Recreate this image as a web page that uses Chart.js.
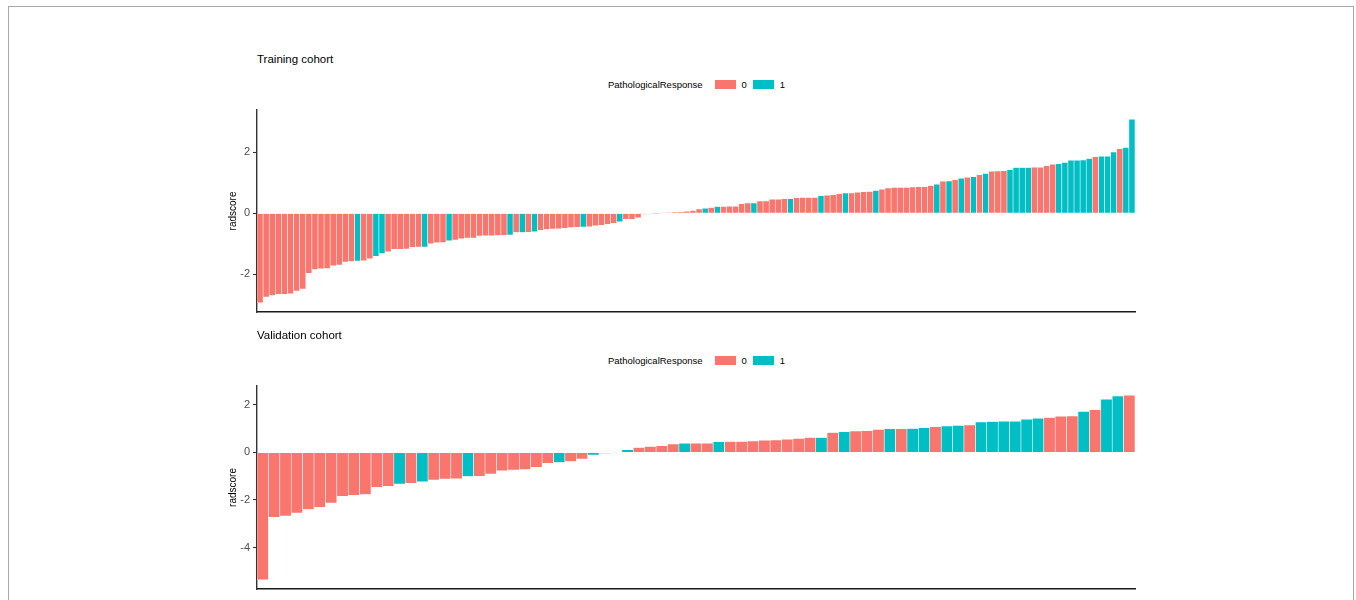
<!DOCTYPE html>
<html>
<head>
<meta charset="utf-8">
<title>Radscore waterfall plots</title>
<script src="https://cdn.jsdelivr.net/npm/chart.js@4.4.1/dist/chart.umd.min.js"></script>
<style>
  html, body { margin: 0; padding: 0; background: #fff; }
  body { width: 1356px; height: 600px; position: relative; overflow: hidden;
         font-family: "Liberation Sans", Arial, sans-serif; }
  #frame { position: absolute; left: 8px; top: 6px; width: 1346px; height: 640px;
           border: 1px solid #a9a9a9; box-sizing: border-box; }
  canvas { position: absolute; left: 0; }
  .panel-title { position: absolute; left: 257px; font-size: 11.5px; line-height: 14px; color: #000; white-space: nowrap; }
  .legend { position: absolute; left: 608px; height: 12px; display: flex; align-items: center;
            font-size: 9.5px; color: #000; white-space: nowrap; }
  .legend .key { display: inline-block; width: 21px; height: 9px; }
</style>
</head>
<body>
<div id="frame"></div>

<div class="panel-title" style="top:52px">Training cohort</div>
<div class="legend" id="legendTrain" style="top:78px"></div>
<canvas id="trainChart" width="1356" height="330" style="top:0"></canvas>

<div class="panel-title" style="top:328px">Validation cohort</div>
<div class="legend" id="legendValid" style="top:354px"></div>
<canvas id="validChart" width="1356" height="270" style="top:330px"></canvas>

<script>
// Radscore per patient, sorted ascending, with the pathological response (0/1)
const trainScores = [
  -2.94, -2.75, -2.70, -2.66, -2.66, -2.64, -2.55, -2.49, -1.97, -1.85,
  -1.82, -1.81, -1.72, -1.70, -1.60, -1.58, -1.57, -1.56, -1.49, -1.41,
  -1.32, -1.26, -1.18, -1.18, -1.17, -1.12, -1.11, -1.11, -1.00, -0.97,
  -0.96, -0.90, -0.88, -0.84, -0.81, -0.81, -0.75, -0.74, -0.74, -0.73,
  -0.72, -0.71, -0.63, -0.63, -0.62, -0.61, -0.56, -0.53, -0.52, -0.51,
  -0.49, -0.47, -0.46, -0.45, -0.44, -0.41, -0.39, -0.36, -0.33, -0.28,
  -0.20, -0.20, -0.15, -0.03, -0.02, -0.01, 0.01, 0.02, 0.03, 0.04,
  0.07, 0.09, 0.14, 0.17, 0.19, 0.22, 0.22, 0.23, 0.23, 0.31,
  0.34, 0.34, 0.40, 0.40, 0.46, 0.46, 0.48, 0.48, 0.51, 0.52,
  0.52, 0.52, 0.58, 0.59, 0.61, 0.64, 0.67, 0.67, 0.69, 0.71,
  0.72, 0.75, 0.79, 0.83, 0.85, 0.85, 0.85, 0.86, 0.87, 0.87,
  0.91, 0.95, 1.05, 1.06, 1.10, 1.15, 1.18, 1.20, 1.27, 1.31,
  1.38, 1.39, 1.40, 1.43, 1.50, 1.50, 1.50, 1.51, 1.51, 1.56,
  1.61, 1.63, 1.67, 1.74, 1.74, 1.75, 1.80, 1.86, 1.87, 1.87,
  2.01, 2.12, 2.16, 3.09
];
const trainResponse = [
  0, 0, 0, 0, 0, 0, 0, 0, 0, 0,
  0, 0, 0, 0, 0, 0, 1, 0, 0, 1,
  1, 0, 0, 0, 0, 0, 0, 1, 0, 0,
  0, 1, 0, 0, 0, 0, 0, 0, 0, 0,
  0, 1, 0, 1, 0, 1, 0, 0, 0, 0,
  0, 0, 0, 1, 0, 0, 0, 0, 0, 1,
  0, 0, 0, 0, 0, 0, 0, 0, 0, 0,
  0, 0, 0, 1, 0, 1, 0, 0, 0, 0,
  0, 1, 0, 0, 0, 0, 0, 1, 0, 0,
  0, 0, 1, 0, 0, 0, 1, 0, 0, 0,
  0, 1, 0, 0, 0, 0, 0, 0, 0, 0,
  0, 1, 0, 1, 0, 1, 0, 1, 0, 1,
  0, 0, 0, 1, 1, 1, 1, 0, 0, 0,
  0, 1, 1, 1, 1, 1, 1, 0, 1, 1,
  1, 0, 1, 1
];

const validScores = [
  -5.36, -2.73, -2.68, -2.55, -2.40, -2.31, -2.13, -1.84, -1.80, -1.77,
  -1.47, -1.42, -1.33, -1.30, -1.23, -1.16, -1.12, -1.11, -1.01, -1.00,
  -0.91, -0.77, -0.74, -0.72, -0.62, -0.45, -0.42, -0.38, -0.28, -0.11,
  -0.03, 0.02, 0.11, 0.21, 0.25, 0.28, 0.36, 0.39, 0.39, 0.39,
  0.45, 0.46, 0.46, 0.48, 0.52, 0.53, 0.56, 0.59, 0.63, 0.63,
  0.84, 0.87, 0.90, 0.91, 0.97, 1.00, 1.00, 1.01, 1.04, 1.08,
  1.11, 1.14, 1.16, 1.28, 1.30, 1.32, 1.32, 1.40, 1.44, 1.47,
  1.53, 1.54, 1.73, 1.80, 2.24, 2.38, 2.41
];
const validResponse = [
  0, 0, 0, 0, 0, 0, 0, 0, 0, 0,
  0, 0, 1, 0, 1, 0, 0, 0, 1, 0,
  0, 0, 0, 0, 0, 0, 1, 0, 0, 1,
  0, 0, 1, 0, 0, 0, 0, 1, 0, 0,
  1, 0, 0, 0, 0, 0, 0, 0, 0, 1,
  0, 1, 0, 0, 0, 1, 0, 1, 1, 0,
  1, 1, 0, 1, 1, 1, 1, 1, 1, 0,
  0, 0, 1, 0, 1, 1, 0
];

const trainTicks = [-2, 0, 2];
const validTicks = [-4, -2, 0, 2];

const responseLevels = ['0', '1'];
const responseColors = ['#F8766D', '#00BFC4'];
const legendTitle = 'PathologicalResponse';
const yTitle = 'radscore';

const FONT = '"Liberation Sans", Arial, sans-serif';

function buildLegend(el) {
  const name = document.createElement('span');
  name.textContent = legendTitle;
  name.style.marginRight = '12px';
  el.appendChild(name);
  responseLevels.forEach((lvl, i) => {
    const key = document.createElement('span');
    key.className = 'key';
    key.style.background = responseColors[i];
    el.appendChild(key);
    const txt = document.createElement('span');
    txt.textContent = lvl;
    txt.style.marginLeft = '6px';
    txt.style.marginRight = i === 0 ? '6px' : '0';
    el.appendChild(txt);
  });
}

function waterfall(canvasId, scores, response, tickValues, padTop, padBottom) {
  const labels = scores.map((_, i) => String(i + 1));
  const lo = Math.min(...scores), hi = Math.max(...scores);
  const expand = 0.05 * (hi - lo);
  const datasets = responseLevels.map((lvl, g) => ({
    label: lvl,
    data: scores.map((v, i) => (response[i] === g ? v : null)),
    backgroundColor: responseColors[g],
    borderColor: 'rgba(255,255,255,0.8)',
    borderWidth: 0.6,
    barPercentage: 1,
    categoryPercentage: 1
  }));
  return new Chart(document.getElementById(canvasId), {
    type: 'bar',
    data: { labels, datasets },
    options: {
      responsive: false,
      animation: false,
      devicePixelRatio: 1,
      layout: { padding: { left: 223, right: 221, top: padTop, bottom: padBottom } },
      plugins: { legend: { display: false }, tooltip: { enabled: false }, title: { display: false } },
      scales: {
        x: {
          stacked: true,
          offset: true,
          grid: { display: false },
          ticks: { display: false },
          border: { display: true, color: '#1a1a1a', width: 1.5 },
          afterFit: s => { s.height = 0; }
        },
        y: {
          stacked: true,
          min: lo - expand,
          max: hi + expand,
          afterBuildTicks: s => { s.ticks = tickValues.map(v => ({ value: v })); },
          afterFit: s => { s.width = 34; },
          ticks: {
            color: '#4d4d4d',
            padding: 3,
            font: { family: FONT, size: 11 },
            callback: v => String(v)
          },
          grid: {
            display: true,
            drawOnChartArea: false,
            drawTicks: true,
            tickLength: 4,
            tickColor: '#333333',
            tickWidth: 1.1
          },
          border: { display: true, color: '#333333', width: 1.4 },
          title: {
            display: true,
            text: yTitle,
            color: '#000',
            font: { family: FONT, size: 10 },
            padding: { top: 4, bottom: 4 }
          }
        }
      }
    }
  });
}

buildLegend(document.getElementById('legendTrain'));
buildLegend(document.getElementById('legendValid'));
waterfall('trainChart', trainScores, trainResponse, trainTicks, 110, 18);
waterfall('validChart', validScores, validResponse, validTicks, 56, 11);
</script>
</body>
</html>
